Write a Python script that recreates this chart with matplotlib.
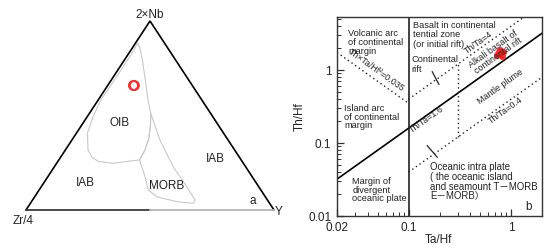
import numpy as np
import matplotlib
matplotlib.use("Agg")
import matplotlib.pyplot as plt

plt.rcParams['font.family'] = ['Liberation Sans', 'Noto Sans CJK SC', 'DejaVu Sans']

# ---------------- data ----------------
# Ternary 2Nb - Zr/4 - Y (fractions, %)
oib_nb = [88.2, 82.0, 74.1, 66.1, 58.2, 49.2, 40.7, 31.8, 28.0, 25.7, 24.7, 25.9, 26.5,
          31.8, 38.1, 45.0, 51.3, 58.2, 69.8, 80.4, 86.2, 88.2]
oib_zr = [10.9, 16.7, 24.7, 32.7, 40.7, 48.4, 54.8, 59.1, 59.4, 58.1, 52.6, 45.1, 41.0,
          36.1, 31.4, 27.3, 24.1, 21.7, 17.1, 13.0, 11.1, 10.9]
oib_y = [0.9, 1.3, 1.3, 1.2, 1.1, 2.4, 4.4, 9.1, 12.6, 16.2, 22.7, 29.0, 32.5,
         32.1, 30.5, 27.7, 24.6, 20.1, 13.1, 6.6, 2.7, 0.9]

morb_nb = [51.3, 37.0, 22.9, 12.3, 5.3, 3.5, 4.4, 7.0, 10.6, 17.6, 26.5, 31.8, 38.1, 45.0, 51.3]
morb_zr = [24.1, 27.5, 29.2, 29.0, 29.2, 30.8, 37.0, 43.8, 45.4, 43.2, 41.0, 36.1, 31.4, 27.3, 24.1]
morb_y = [24.6, 35.5, 47.9, 58.7, 65.5, 65.7, 58.6, 49.2, 44.0, 39.2, 32.5, 32.1, 30.5, 27.7, 24.6]

sample_nb = [66.4, 65.9, 66.2]
sample_zr = [23.6, 23.9, 23.5]
sample_y = [10.0, 10.2, 10.3]

# Th/Hf - Ta/Hf diagram
ratio_main = 1.6          # Th/Ta solid boundary
ratio_upper = 4.0         # Th/Ta dotted
ratio_lower = 0.4         # Th/Ta dotted
product_const = 0.035     # Th/Hf * Ta/Hf
ta_hf_vertical = 0.1
ta_hf_rift = 0.3

sample_tahf = [0.72, 0.76, 0.80, 0.78, 0.84, 0.74, 0.82]
sample_thhf = [1.62, 1.75, 1.70, 1.86, 1.80, 1.66, 1.58]

x_ticks = [0.02, 0.1, 1]
x_ticklabels = ['0.02', '0.1', '1']
y_ticks = [0.01, 0.1, 1]
y_ticklabels = ['0.01', '0.1', '1']

# ---------------- figure ----------------
W, H = 550, 249
fig = plt.figure(figsize=(W / 100, H / 100), dpi=100)
fig.patch.set_facecolor('white')


def ftxt(px, py, s, **kw):
    kw.setdefault('ha', 'center')
    kw.setdefault('va', 'center')
    kw.setdefault('color', '#222222')
    return fig.text(px / W, 1 - py / H, s, **kw)


def fblock(px, py_first, lines, dy, fs):
    # py_first: visual centre of first line; dy: baseline spacing in px
    em = fs * 100 / 72.0
    ls = (dy - 0.21 * em) / (0.729 * em)
    top = py_first - 0.37 * em
    return fig.text(px / W, 1 - top / H, '\n'.join(lines), ha='left', va='top',
                    multialignment='left', fontsize=fs, linespacing=ls, color='#222222')


def tern(nb, zr, y):
    nb = np.asarray(nb, float); zr = np.asarray(zr, float); y = np.asarray(y, float)
    t = nb + zr + y
    nb, y = nb / t, y / t
    return y + nb / 2, nb

# ---- ternary panel ----
axt = fig.add_axes([26 / W, 1 - 210 / H, 248 / W, 189 / H])
axt.set_xlim(0, 1); axt.set_ylim(0, 1); axt.axis('off')
axt.plot([0, 0.5, 1], [0, 1, 0], color='black', lw=1.2, clip_on=False, solid_joinstyle='miter')
axt.plot([0, 0.5], [0, 0], color='#3a3a3a', lw=1.3, clip_on=False)
axt.plot([0.5, 1], [0, 0], color='#b5b5b5', lw=1.3, clip_on=False)

x, y = tern(oib_nb, oib_zr, oib_y)
axt.plot(x, y, color='#c8c8c8', lw=0.8)
x, y = tern(morb_nb, morb_zr, morb_y)
axt.plot(x, y, color='#c8c8c8', lw=0.8)
x, y = tern(sample_nb, sample_zr, sample_y)
axt.plot(x, y, 'o', mfc='none', mec='#ff2a2a', mew=1.2, ms=6.5, clip_on=False)

ftxt(150, 15, '2×Nb', fontsize=8.5)
ftxt(23, 221, 'Zr/4', fontsize=8.5)
ftxt(279, 212, 'Y', fontsize=8.5)
ftxt(119.5, 122.7, 'OIB', fontsize=8.5)
ftxt(85.7, 182.7, 'IAB', fontsize=8.5)
ftxt(166.7, 185.7, 'MORB', fontsize=8.5)
ftxt(215, 159.3, 'IAB', fontsize=8.5)
ftxt(252.3, 200.7, 'a', fontsize=8.5)

# ---- log-log panel ----
ax = fig.add_axes([337 / W, 1 - 216 / H, 205 / W, 199.3 / H])
ax.set_xscale('log'); ax.set_yscale('log')
ax.set_xlim(0.02, 2.0); ax.set_ylim(0.01, 5.4)

xs = np.array([0.02, 2.0])
ax.plot(xs, ratio_main * xs, color='black', lw=1.2)
ax.axvline(ta_hf_vertical, color='#222222', lw=1.2)
dot = (0, (1, 2.2))
xs2 = np.array([ta_hf_vertical, 2.0])
ax.plot(xs2, ratio_upper * xs2, color='#222222', lw=1.0, ls=dot)
ax.plot(xs2, ratio_lower * xs2, color='#222222', lw=1.0, ls=dot)
xs3 = np.array([0.02, ta_hf_vertical])
ax.plot(xs3, product_const / xs3, color='#222222', lw=1.0, ls=dot)
ax.plot([ta_hf_rift, ta_hf_rift], [ratio_lower * ta_hf_rift, ratio_upper * ta_hf_rift],
        color='#222222', lw=1.0, ls=dot)
# small crossing marks
ax.plot([0.17, 0.197], [0.95, 0.64], color='#222222', lw=0.9)
ax.plot([0.152, 0.19], [0.092, 0.064], color='#222222', lw=0.9)

ax.plot(sample_tahf, sample_thhf, 'o', color='#ff2020', ms=4.5, mec='#ff3030', mew=0.5)

ax.set_xticks(x_ticks); ax.set_xticklabels(x_ticklabels)
ax.set_yticks(y_ticks); ax.set_yticklabels(y_ticklabels)
ax.tick_params(which='both', direction='in', top=False, right=False, labelsize=8.5,
               labelcolor='#222222', color='#333333')
ax.tick_params(which='major', length=5, width=0.9, pad=4)
ax.tick_params(which='minor', length=3, width=0.7)
for s in ax.spines.values():
    s.set_linewidth(1.0)
    s.set_color('#333333')

ftxt(300, 117, 'Th/Hf', fontsize=8.5, rotation=90)
ftxt(438, 240, 'Ta/Hf', fontsize=8.5)

fs = 6.7
fblock(348, 32.3, ['Volcanic arc', 'of continental', 'margin'], 8.9, fs)
fblock(413.3, 24, ['Basalt in continental', 'tential zone', '(or initial rift)'], 9.1, 6.6)
fblock(411.7, 58.3, ['Continental', 'rift'], 9.5, fs)
fblock(344, 107.3, ['Island arc', 'of continental', 'margin'], 8.4, fs)
fblock(430, 166, ['Oceanic intra plate', '( the oceanic island', 'and seamount T－MORB',
                  'E－MORB）'], 8.7, 6.9)
fblock(352.3, 180, ['Margin of', 'divergent', 'oceanic plate'], 8.7, fs)
ftxt(528.3, 207.3, 'b', fontsize=8.5)

ang = np.degrees(np.arctan(73.3 / 103))
rk = dict(fontsize=6.4, rotation_mode='anchor')
ftxt(376.7, 70, 'Th×Ta/Hf²=0.035', rotation=-ang, **rk)
ftxt(426.7, 119.3, 'Th/Ta=1.6', rotation=ang, **rk)
ftxt(478.3, 42.3, 'Th/Ta=4', rotation=ang, **rk)
ftxt(496, 52.5, 'Alkali basalt of\ncontinental rift', rotation=ang, multialignment='center',
     linespacing=1.0, **rk)
ftxt(500.7, 86.7, 'Mantle plume', rotation=ang, **rk)
ftxt(505.7, 110.7, 'Th/Ta=0.4', rotation=ang, **rk)

fig.savefig('out.png', dpi=100, facecolor='white')
